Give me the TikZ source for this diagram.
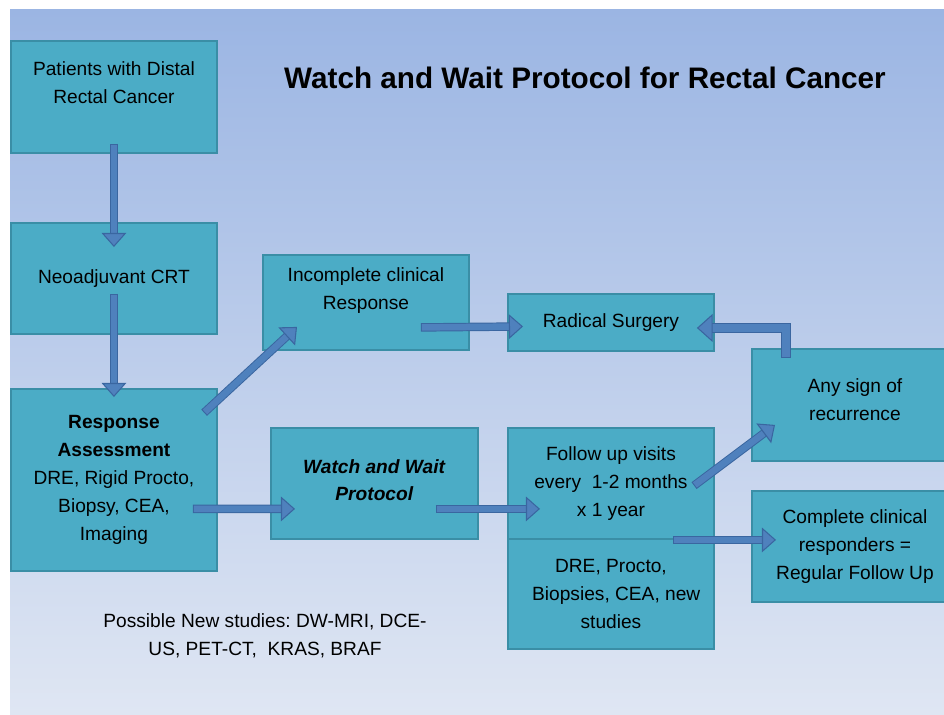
\documentclass[tikz,border=0pt]{standalone}
\usepackage{fontspec}
\setmainfont{Liberation Sans}
\usetikzlibrary{positioning,calc,arrows.meta}
\definecolor{boxfill}{HTML}{4BACC6}
\definecolor{boxline}{HTML}{3A8EA6}
\definecolor{arrfill}{HTML}{4F81BD}
\definecolor{arrline}{HTML}{3A66A0}
\definecolor{bgtop}{HTML}{9BB5E3}
\definecolor{bgbot}{HTML}{DFE6F3}
\frenchspacing

\begin{document}
\begin{tikzpicture}[
		x=0.02cm, y=-0.02cm
		,box/.style={draw=boxline, fill=boxfill, line width=1.1pt, align=center, inner sep=0pt, anchor=north west, minimum width=4.12cm, font=\fontsize{10.9}{15.9}\selectfont}
		,note/.style={align=center, font=\fontsize{10.9}{15.9}\selectfont}
		,flow/.style={draw=arrfill, line width=3.7pt, -{Triangle[width=14pt, length=8pt, line width=0.6pt, color=arrline, fill=arrfill]}, preaction={draw=arrline, line width=4.8pt, arrows=-, shorten >=7.5pt, shorten <=-0.6pt}}
		,bigflow/.style={draw=arrfill, line width=5pt, line join=miter, -{Triangle[width=16pt, length=9pt, line width=0.6pt, color=arrline, fill=arrfill]}, preaction={draw=arrline, line width=6.2pt, line join=miter, arrows=-, shorten >=8.5pt, shorten <=-0.6pt}}
	]
		\fill[white] (0,0) rectangle (944,714);
		\shade[top color=bgtop, bottom color=bgbot] (10,9) rectangle (944,714);
		\useasboundingbox (0,0) rectangle (944,714);

		\node[font=\bfseries\fontsize{16.9}{20}\selectfont] (title) at (585,78) {Watch and Wait Protocol for Rectal Cancer};

		\node[box, minimum height=2.24cm] (pat) at (10,40) {Patients with Distal\\Rectal Cancer\\ \mbox{}};
		\node[box, minimum height=2.22cm] (neo) at (10,222) {Neoadjuvant CRT};
		\node[box, minimum height=3.64cm] (resp) at (10,388) {\textbf{Response}\\\textbf{Assessment}\\DRE, Rigid Procto,\\Biopsy, CEA,\\Imaging};
		\node[box, minimum height=1.9cm] (inc) at (262,254) {Incomplete clinical\\Response\\ \mbox{}};
		\node[box, minimum height=1.14cm] (rad) at (507,293) {Radical Surgery};
		\node[box, minimum height=2.24cm] (any) at (751,348) {Any sign of\\recurrence\\[-10pt] \mbox{}};
		\node[box, minimum width=4.14cm, minimum height=2.22cm] (ww) at (270,427) {\textbf{\textit{Watch and Wait}}\\\textbf{\textit{Protocol}}\\[-12pt] \mbox{}};
		\node[box, minimum height=2.22cm] (fol) at (507,427) {Follow up visits\\every\ \ 1-2 months\\x 1 year};
		\node[box, minimum height=2.2cm, below=-1.1pt of fol] (dre) {DRE, Procto,\\\hspace*{6pt}Biopsies, CEA, new\\studies};
		\node[box, minimum height=2.22cm] (comp) at (751,490) {Complete clinical\\responders =\\Regular Follow Up};

		\node[note] (studies) at (265,636) {Possible New studies: DW-MRI, DCE-\\US, PET-CT,\ \ KRAS, BRAF};

		\draw[flow] ($(pat.south)+(0,-9)$) -- ($(neo.north)+(0,25)$);
		\draw[flow] ($(neo.south)+(0,-40)$) -- ($(resp.north)+(0,9)$);
		\draw[flow] ($(resp.north east)+(-13,24)$) -- ($(inc.south west)+(35,-24)$);
		\draw[flow] ($(resp.south east)+(-24,-63)$) -- ($(ww.south west)+(25,-31)$);
		\draw[flow] ($(inc.south east)+(-48,-23.5)$) -- ($(rad.west)+(16,4)$);
		\draw[flow] ($(ww.south east)+(-42,-31)$) -- ($(fol.south west)+(33,-31)$);
		\draw[flow] ($(fol.north east)+(-20,58)$) -- ($(any.south west)+(24,-37)$);
		\draw[flow] ($(fol.south east)+(-41,0)$) -- ($(comp.south west)+(25,-63)$);
		\draw[bigflow] ($(any.north west)+(35,9)$) |- ($(rad.east)+(-18,5.5)$);
	\end{tikzpicture}
\end{document}
